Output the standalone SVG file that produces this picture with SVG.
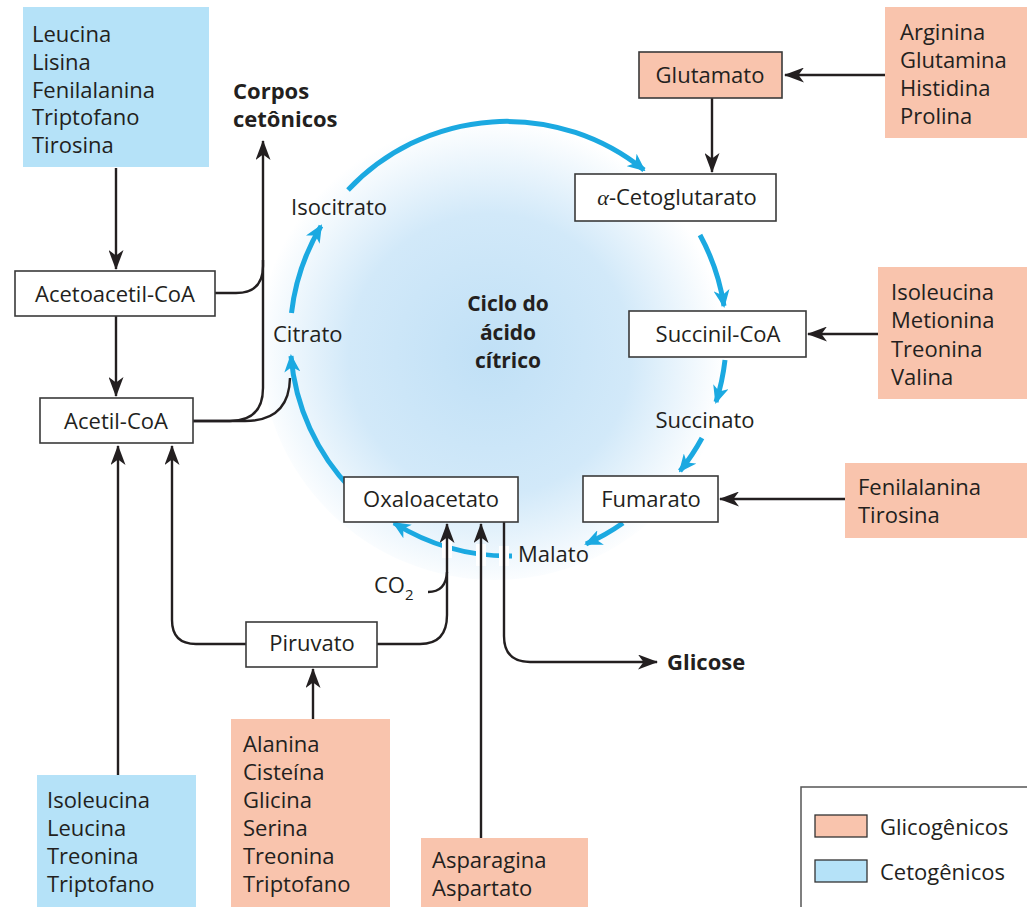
<svg xmlns="http://www.w3.org/2000/svg" width="1027" height="907" viewBox="0 0 1027 907">
<style>
text{font-family:"Open Sans","Liberation Sans",sans-serif;font-size:22px;fill:#231f20}
.b{font-weight:bold}
.m{text-anchor:middle}
.c{font-size:21px}
.box{fill:#fff;stroke:#3a3a3a;stroke-width:1.6}
.sal{fill:#f9c4ad}
.blu{fill:#b5e2f8}
.ln{fill:none;stroke:#231f20;stroke-width:2.4}
.cy{fill:none;stroke:#1ba9e1;stroke-width:5}
.ko{fill:none;stroke:#fff;stroke-width:10}
</style>
<defs>
<radialGradient id="glow" gradientUnits="userSpaceOnUse" cx="490" cy="355" r="235">
<stop offset="0" stop-color="#c0e0f6"/>
<stop offset="0.6" stop-color="#d2e9f9"/>
<stop offset="1" stop-color="#ffffff"/>
</radialGradient>
<marker id="ah" markerUnits="userSpaceOnUse" markerWidth="20" markerHeight="15" refX="19" refY="7.5" orient="auto">
<path d="M0,0 L20,7.5 L0,15 L5.5,7.5 Z" fill="#231f20"/>
</marker>
<marker id="bh" markerUnits="userSpaceOnUse" markerWidth="18" markerHeight="16" refX="16" refY="8" orient="auto">
<path d="M0,0 L18,8 L0,16 L5,8 Z" fill="#1ba9e1"/>
</marker>
</defs>
<rect width="1027" height="907" fill="#fff"/>
<circle cx="495" cy="345" r="235" fill="url(#glow)"/>

<g id="cycle">
<path class="cy" d="M352,490 A218,218 0 0,1 291,356" marker-end="url(#bh)"/>
<path class="cy" d="M291.5,313 A218,218 0 0,1 321,226" marker-end="url(#bh)"/>
<path class="cy" d="M348,190 A218,218 0 0,1 644,170" marker-end="url(#bh)"/>
<path class="cy" d="M700,235 A218,218 0 0,1 724,306" marker-end="url(#bh)"/>
<path class="cy" d="M725,360 A218,218 0 0,1 716,402" marker-end="url(#bh)"/>
<path class="cy" d="M702,438 A218,218 0 0,1 680,471" marker-end="url(#bh)"/>
<path class="cy" d="M623,523 A218,218 0 0,1 586,544" marker-end="url(#bh)"/>
<path class="cy" d="M512,556 A218,218 0 0,1 394,523" marker-end="url(#bh)"/>
</g>

<g id="connectors">
<path class="ln" d="M116,168 V269" marker-end="url(#ah)"/>
<path class="ln" d="M116,316 V396" marker-end="url(#ah)"/>
<path class="ln" d="M215,293 H236 Q263,293 263,266 V141" marker-end="url(#ah)"/>
<path class="ln" d="M193,421 H230 Q263,421 263,388 V260"/>
<path class="ln" d="M193,421 H245 Q289,421 290,378"/>
<path class="ln" d="M118,775 V446" marker-end="url(#ah)"/>
<path class="ln" d="M246,644 H196 Q172,644 172,620 V446" marker-end="url(#ah)"/>
<path class="ln" d="M313,719 V669" marker-end="url(#ah)"/>
<path class="ko" d="M447,538 V558"/>
<path class="ko" d="M481,544 V566"/>
<path class="ko" d="M504,546 V566"/>
<path class="ln" d="M377,644 H420 Q447,644 447,615 V524" marker-end="url(#ah)"/>
<path class="ln" d="M428,592 Q446,592 447,572"/>
<path class="ln" d="M481,838 V524" marker-end="url(#ah)"/>
<path class="ln" d="M504,522 V636 Q504,662 530,662 H657" marker-end="url(#ah)"/>
<path class="ln" d="M885,75 H785" marker-end="url(#ah)"/>
<path class="ln" d="M712,98 V172" marker-end="url(#ah)"/>
<path class="ln" d="M878,334 H808" marker-end="url(#ah)"/>
<path class="ln" d="M845,499 H720" marker-end="url(#ah)"/>
</g>

<g id="ceto-top">
<rect class="blu" x="23" y="7" width="186" height="160"/>
<text x="32" y="42">Leucina</text>
<text x="32" y="70">Lisina</text>
<text x="32" y="98">Fenilalanina</text>
<text x="32" y="125">Triptofano</text>
<text x="32" y="153">Tirosina</text>
</g>
<g id="corpos">
<text class="b" x="233" y="99">Corpos</text>
<text class="b" x="233" y="127">cetônicos</text>
</g>
<g id="acetoacetil">
<rect class="box" x="15" y="271" width="200" height="45"/>
<text class="m" x="115" y="302">Acetoacetil-CoA</text>
</g>
<g id="acetil">
<rect class="box" x="40" y="398" width="153" height="45"/>
<text class="m" x="116" y="429">Acetil-CoA</text>
</g>
<g id="isocitrato"><text x="291" y="215">Isocitrato</text></g>
<g id="citrato"><text x="273" y="342">Citrato</text></g>
<g id="ciclo">
<text class="b m c" x="508" y="311">Ciclo do</text>
<text class="b m c" x="508" y="340">ácido</text>
<text class="b m c" x="508" y="368">cítrico</text>
</g>
<g id="glutamato">
<rect class="box sal" x="639" y="52" width="143" height="46"/>
<text class="m" x="710" y="83">Glutamato</text>
</g>
<g id="glico-glu">
<rect class="sal" x="885" y="7" width="142" height="131"/>
<text x="900" y="40">Arginina</text>
<text x="900" y="68">Glutamina</text>
<text x="900" y="96">Histidina</text>
<text x="900" y="124">Prolina</text>
</g>
<g id="cetoglutarato">
<rect class="box" x="575" y="174" width="201" height="47"/>
<text class="m" x="677" y="205"><tspan font-family="Liberation Serif,serif" font-style="italic">α</tspan>-Cetoglutarato</text>
</g>
<g id="succinilcoa">
<rect class="box" x="629" y="311" width="177" height="46"/>
<text class="m" x="718" y="342">Succinil-CoA</text>
</g>
<g id="glico-succ">
<rect class="sal" x="878" y="267" width="149" height="132"/>
<text x="891" y="300">Isoleucina</text>
<text x="891" y="328">Metionina</text>
<text x="891" y="357">Treonina</text>
<text x="891" y="385">Valina</text>
</g>
<g id="succinato"><text class="m" x="705" y="428">Succinato</text></g>
<g id="fumarato">
<rect class="box" x="583" y="476" width="135" height="46"/>
<text class="m" x="651" y="507">Fumarato</text>
</g>
<g id="glico-fum">
<rect class="sal" x="845" y="463" width="182" height="75"/>
<text x="858" y="495">Fenilalanina</text>
<text x="858" y="523">Tirosina</text>
</g>
<g id="malato"><text x="518" y="562">Malato</text></g>
<g id="oxaloacetato">
<rect class="box" x="344" y="477" width="174" height="45"/>
<text class="m" x="431" y="507">Oxaloacetato</text>
</g>
<g id="co2"><text x="374" y="593">CO<tspan font-size="15" dy="7">2</tspan></text></g>
<g id="piruvato">
<rect class="box" x="246" y="622" width="131" height="45"/>
<text class="m" x="312" y="651">Piruvato</text>
</g>
<g id="glicose"><text class="b" x="667" y="670">Glicose</text></g>
<g id="ceto-bottom">
<rect class="blu" x="37" y="775" width="159" height="140"/>
<text x="47" y="808">Isoleucina</text>
<text x="47" y="836">Leucina</text>
<text x="47" y="864">Treonina</text>
<text x="47" y="892">Triptofano</text>
</g>
<g id="glico-piruv">
<rect class="sal" x="231" y="719" width="159" height="200"/>
<text x="243" y="752">Alanina</text>
<text x="243" y="780">Cisteína</text>
<text x="243" y="808">Glicina</text>
<text x="243" y="836">Serina</text>
<text x="243" y="864">Treonina</text>
<text x="243" y="892">Triptofano</text>
</g>
<g id="glico-oxalo">
<rect class="sal" x="421" y="838" width="167" height="80"/>
<text x="432" y="868">Asparagina</text>
<text x="432" y="896">Aspartato</text>
</g>
<g id="legend">
<rect x="801" y="787" width="240" height="140" fill="#fff" stroke="#555" stroke-width="1.5"/>
<rect x="815" y="815" width="52" height="22" fill="#f9c4ad" stroke="#333" stroke-width="1.3"/>
<text x="880" y="835">Glicogênicos</text>
<rect x="815" y="860" width="52" height="22" fill="#b5e2f8" stroke="#333" stroke-width="1.3"/>
<text x="880" y="880">Cetogênicos</text>
</g>
</svg>
